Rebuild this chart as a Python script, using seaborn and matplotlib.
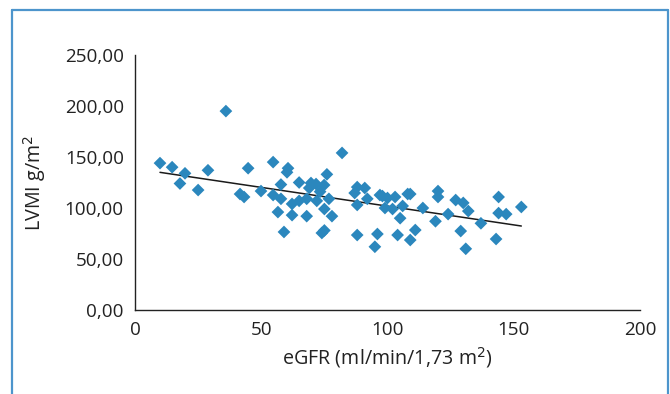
import matplotlib
matplotlib.use("Agg")
import matplotlib.pyplot as plt
import matplotlib.ticker as mticker
from matplotlib.lines import Line2D
import numpy as np
import pandas as pd
import seaborn as sns

# eGFR (ml/min/1.73 m2) values
egfr = [9.9, 14.7, 19.8, 17.8, 25, 28.9, 36, 44.8, 41.6, 43.2, 49.9,
        54.7, 60.6, 60.2, 82, 76, 65, 57.8, 69.7, 71.7, 74.9, 73.3,
        54.7, 57.8, 62.2, 65, 68, 72, 76.8, 69, 56.6, 62.2, 68, 75, 78,
        59, 74, 75, 88, 91, 87, 92, 88, 97, 99, 88, 96, 95,
        98, 100, 103, 102, 106, 108, 109, 105, 114, 120, 120, 119, 124,
        127, 130, 132, 137, 129, 131, 144, 144, 147, 153, 143, 111, 104, 109]
# LVMI (g/m2) values
lvmi = [144, 140, 134, 124, 117.6, 137, 195, 139, 113.7, 110.8, 116.6,
        145, 139, 135, 154, 133, 125, 123, 124.5, 123.5, 122.5, 116,
        112.7, 109, 104, 107, 109, 107, 109, 119.6, 96, 93, 92, 99, 92,
        76.5, 75.5, 78, 120.5, 119.6, 114.7, 109, 103, 112.7, 100, 73.5, 74.5, 62,
        111.7, 109.8, 110.8, 99, 102, 113.7, 113.7, 90, 100, 116.6, 110.8, 87, 94,
        107.8, 105, 97, 85, 77.4, 60, 110.8, 95, 94, 101, 69.6, 78.4, 73.5, 68.6]

xticks = [0, 50, 100, 150, 200]
yticks = [0, 50, 100, 150, 200, 250]

df = pd.DataFrame({"eGFR": egfr, "LVMI": lvmi})

sns.set_style("white")
plt.rcParams["font.family"] = ["Open Sans", "DejaVu Sans"]

fig = plt.figure(figsize=(6.7, 3.94), dpi=100)
ax = fig.add_axes([135 / 670, 1 - 310 / 394, 505 / 670, 255 / 394])

sns.scatterplot(data=df, x="eGFR", y="LVMI", marker="D", s=42,
                color="#2b87bd", edgecolor="none", ax=ax, zorder=3)
sns.regplot(data=df, x="eGFR", y="LVMI", scatter=False, ci=None, truncate=True,
            line_kws={"color": "#1a1a1a", "lw": 1.1}, ax=ax)

ax.set_xlim(0, 200)
ax.set_ylim(0, 250)
ax.set_xticks(xticks)
ax.set_yticks(yticks)
ax.yaxis.set_major_formatter(mticker.FuncFormatter(lambda v, p: f"{v:.2f}".replace(".", ",")))
for s in ["top", "right"]:
    ax.spines[s].set_visible(False)
for s in ["left", "bottom"]:
    ax.spines[s].set_color("#222222")
    ax.spines[s].set_linewidth(1.0)
ax.tick_params(axis="x", direction="in", length=5, width=1, color="#222222",
               labelsize=13.6, labelcolor="#222222", pad=8)
ax.tick_params(axis="y", direction="out", length=5, width=1, color="#222222",
               labelsize=13.6, labelcolor="#222222", pad=3)
ax.set_xlabel("eGFR (ml/min/1,73 m$^{2}$)", fontsize=14.2, color="#222222", labelpad=4)
ax.set_ylabel("LVMI g/m$^{2}$", fontsize=14.2, color="#222222", labelpad=12)

# outer frame (open at the bottom)
col = "#4d95cc"
fig.add_artist(Line2D([11.5 / 670, 11.5 / 670], [0, 1 - 10 / 394], transform=fig.transFigure, color=col, lw=1.6))
fig.add_artist(Line2D([11.5 / 670, 668 / 670], [1 - 10 / 394, 1 - 10 / 394], transform=fig.transFigure, color=col, lw=1.6))
fig.add_artist(Line2D([668 / 670, 668 / 670], [0, 1 - 10 / 394], transform=fig.transFigure, color=col, lw=1.6))

fig.savefig("out.png", dpi=100)
